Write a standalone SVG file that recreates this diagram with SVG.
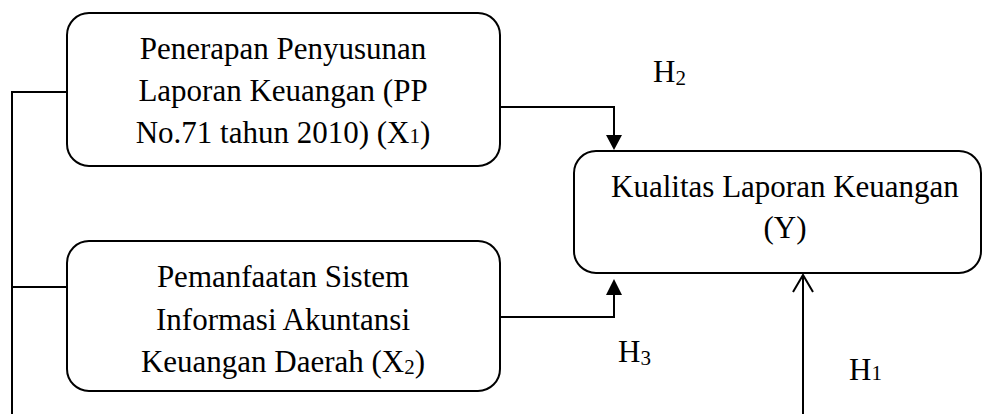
<svg xmlns="http://www.w3.org/2000/svg" width="983" height="414" viewBox="0 0 983 414">
<style>
.box{fill:#fff;stroke:#000;stroke-width:2}
.t{font-family:"Liberation Serif","Times New Roman",serif;font-size:31px;fill:#000;text-anchor:middle}
.h{font-family:"Liberation Serif","Times New Roman",serif;font-size:31px;fill:#000}
.line{fill:none;stroke:#000;stroke-width:2}
.sub{font-size:21px}
</style>
<rect width="983" height="414" fill="#fff"/>
<g id="connectors">
<path class="line" d="M12,414 V92 H67"/>
<path class="line" d="M12,287 H67"/>
<path class="line" d="M500,107 H614 V136"/>
<polygon points="606,135 622,135 614,150" fill="#000"/>
<path class="line" d="M500,317 H614 V294"/>
<polygon points="606,295 622,295 614,279" fill="#000"/>
<path class="line" d="M803,414 V275"/>
<path class="line" d="M793,292 L803,275 L813,292"/>
</g>
<g id="x1">
<rect class="box" x="67" y="13" width="433" height="153" rx="22"/>
<text class="t" x="283" y="59">Penerapan Penyusunan</text>
<text class="t" x="283" y="101">Laporan Keuangan (PP</text>
<text class="t" x="283" y="143">No.71 tahun 2010) (X<tspan class="sub">1</tspan>)</text>
</g>
<g id="x2">
<rect class="box" x="67" y="241" width="433" height="150" rx="22"/>
<text class="t" x="283" y="287">Pemanfaatan Sistem</text>
<text class="t" x="283" y="330">Informasi Akuntansi</text>
<text class="t" x="283" y="372">Keuangan Daerah (X<tspan class="sub" dy="2">2</tspan><tspan dy="-2">)</tspan></text>
</g>
<g id="y">
<rect class="box" x="574" y="151" width="407" height="122" rx="22"/>
<text class="t" x="785" y="197">Kualitas Laporan Keuangan</text>
<text class="t" x="785" y="238">(Y)</text>
</g>
<g id="labels">
<text class="h" x="653" y="82">H<tspan class="sub" dy="3">2</tspan></text>
<text class="h" x="618" y="362">H<tspan class="sub" dy="3">3</tspan></text>
<text class="h" x="849" y="380">H<tspan class="sub">1</tspan></text>
</g>
</svg>
